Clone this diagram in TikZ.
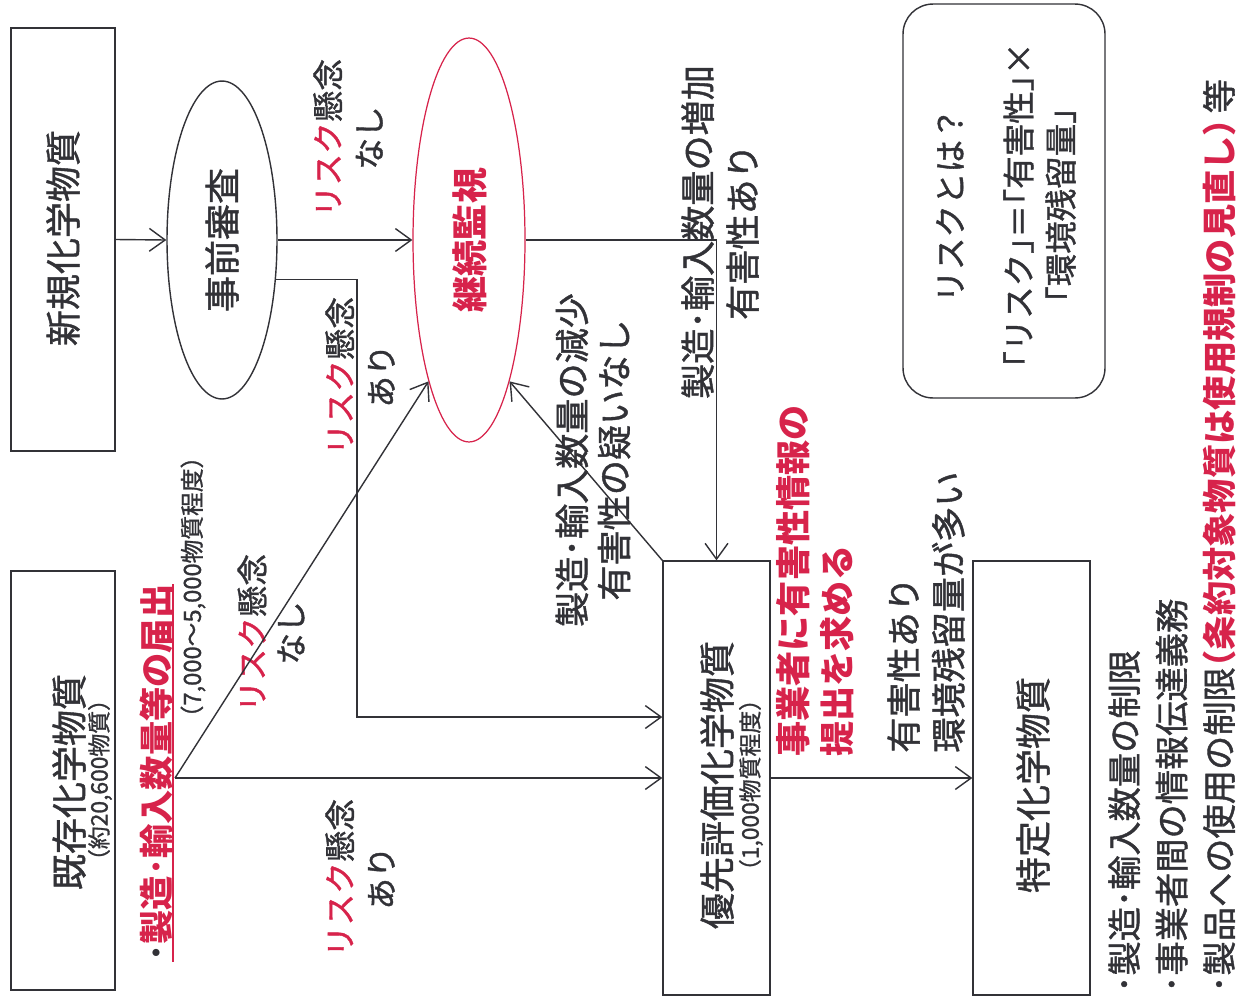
\documentclass[tikz,border=0pt]{standalone}
\usepackage{fontspec}
\setmainfont{Noto Sans CJK JP}[UprightFeatures={FakeBold=1.2}]
\usetikzlibrary{arrows.meta,shapes.geometric,calc}
\definecolor{jred}{RGB}{215,35,75}
\definecolor{ink}{RGB}{50,50,55}
\newcommand{\fsz}[2]{\fontsize{#1}{#2}\selectfont}
\newcommand{\hw}{\addfontfeatures{RawFeature=+halt}}
\tikzset{
  box/.style={draw=ink, line width=0.8pt, rectangle, inner sep=0pt},
  oval/.style={draw=ink, line width=0.8pt, ellipse, inner sep=0pt},
  txt/.style={rotate=90, inner sep=0pt, text=ink},
  arr/.style={draw=ink, line width=0.8pt, -{Straight Barb[length=9pt,width=13pt]}},
}
\begin{document}
\begin{tikzpicture}[x=0.02cm, y=-0.02cm]
\fill[white] (0,0) rectangle (1246,1001);
\useasboundingbox (0,0) rectangle (1246,1001);

% shapes
\node[box, minimum width=2.08cm, minimum height=8.46cm] (shinki) at (63,239.5) {};
\node[box, minimum width=2.08cm, minimum height=8.38cm] (kizon) at (63,780.5) {};
\node[oval, minimum width=2.2cm, minimum height=6.36cm] (jizen) at (222,240) {};
\node[oval, draw=jred, line width=0.7pt, minimum width=2.24cm, minimum height=8.08cm] (keizoku) at (469,240) {};
\node[box, minimum width=2.14cm, minimum height=8.68cm] (yusen) at (716.5,778) {};
\node[box, minimum width=2.34cm, minimum height=8.68cm] (tokutei) at (1031.5,778) {};
\node[box, rounded corners=0.6cm, minimum width=4.04cm, minimum height=7.88cm] (riskbox) at (1004,201) {};

% texts in shapes
\node[txt, font=\fsz{20.5}{24}] (tshinki) at (63,238) {新規化学物質};
\node[txt, font=\fsz{20.5}{24}] (tkizon) at (69,782) {既存化学物質};
\node[txt, font=\fsz{13}{14}] (tkizon2) at (100,780) {（約20,600物質）};
\node[txt, font=\fsz{20.5}{24}] (tjizen) at (222,240) {事前審査};
\node[txt, font=\bfseries\fsz{20.5}{24}, text=jred] (tkeizoku) at (470,240) {継続監視};
\node[txt, font=\fsz{20.5}{24}] (tyusen) at (717,785) {優先評価化学物質};
\node[txt, font=\fsz{13}{14}] (tyusen2) at (751,785) {（1,000物質程度）};
\node[txt, font=\fsz{20.5}{24}] (ttokutei) at (1033,785) {特定化学物質};
\node[txt, align=center, font=\hw\fsz{18.5}{24}] (triskq) at (1006,205) {リスクとは？\\[15pt]「リスク」＝「有害性」×\\「環境残留量」};

% labels
\node[txt, align=center, font=\fsz{18}{23.5}] (lnashi1) at (348,138) {\textcolor{jred}{リスク}懸念\\なし};
\node[txt, align=center, font=\fsz{18}{23.5}] (lari1) at (360,376) {\textcolor{jred}{リスク}懸念\\あり};
\node[txt, align=center, font=\fsz{18}{22}] (lnashi2) at (271,633) {\textcolor{jred}{リスク}懸念\\なし};
\node[txt, align=center, font=\fsz{18}{23.5}] (lari2) at (360,878) {\textcolor{jred}{リスク}懸念\\あり};
\node[txt, font=\fsz{13.5}{15}] (lcount) at (193,587) {（7,000～5,000物質程度）};
\node[txt, font=\bfseries\fsz{19.5}{22}, text=jred] (ltodoke) at (156,773) {\textcolor{ink}{･}製造･輸入数量等の届出};
\draw[jred, line width=0.9pt] (ltodoke.south west) -- (ltodoke.south east);
\node[txt, align=center, font=\fsz{20}{24}] (lgen) at (593,460) {製造･輸入数量の減少\\有害性の疑いなし};
\node[txt, align=center, font=\fsz{20}{25.5}] (lzou) at (720,232) {製造･輸入数量の増加\\有害性あり};
\node[txt, anchor=west, align=left, font=\bfseries\fsz{20}{25}, text=jred] (lteishutsu) at (815,757) {事業者に有害性情報の\\提出を求める};
\node[txt, anchor=west, align=left, font=\fsz{20}{25.5}] (lyugai) at (926,753) {有害性あり\\環境残留量が多い};
\node[txt, anchor=north west, align=left, font=\fsz{19.5}{27}] (lbullets) at (1108,993) {･製造･輸入数量の制限\\･事業者間の情報伝達義務\\･製品への使用の制限{\hw\bfseries\color{jred}（条約対象物質は使用規制の見直し）}\,等};

% connectors
\coordinate (bend1) at (357,500);
\coordinate (fork) at (175,778);
\draw[arr] (shinki.east) -- (jizen.west);
\draw[arr] (jizen.east) -- (keizoku.west);
\draw[arr] (jizen.-36.9) -| (bend1) |- ([yshift=1.22cm]yusen.west);
\draw[arr] (fork) -- (yusen.west);
\draw[arr] (fork) -- (keizoku.-106);
\draw[arr] (keizoku.east) -| (yusen.north);
\draw[arr] (yusen.north west) -- (keizoku.-74);
\draw[arr] (yusen.east) -- (tokutei.west);
\end{tikzpicture}
\end{document}
